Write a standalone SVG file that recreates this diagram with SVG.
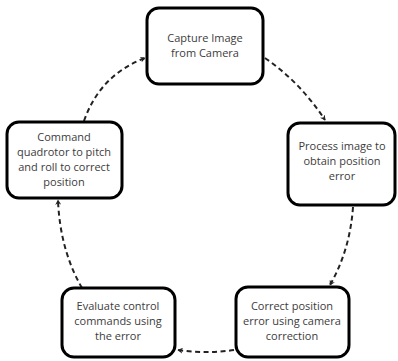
<svg xmlns="http://www.w3.org/2000/svg" width="398" height="361" viewBox="0 0 398 361">
  <style>
    .box { fill: #ffffff; stroke: #000000; stroke-width: 3; }
    .label { font-family: "Open Sans", "Liberation Sans", sans-serif; font-size: 11px; fill: #3c3c3c; text-anchor: middle; }
    .link { fill: none; stroke: #222222; stroke-width: 2; stroke-dasharray: 5 3.5; marker-end: url(#arrow); }
  </style>
  <defs>
    <marker id="arrow" viewBox="0 0 10 10" refX="8" refY="5" markerWidth="6" markerHeight="6" orient="auto" markerUnits="userSpaceOnUse">
      <path d="M0,0 L9,5 L0,10 L3,5 Z" fill="#222222"/>
    </marker>
  </defs>
  <rect width="398" height="361" fill="#ffffff"/>

  <g id="connectors">
    <path class="link" d="M265,58 Q300,82 325,120"/>
    <path class="link" d="M353,207 Q350,250 330,285"/>
    <path class="link" d="M234,350 Q206,354 178,350"/>
    <path class="link" d="M82,288 Q60,250 58,200"/>
    <path class="link" d="M84,121 Q100,75 145,58"/>
  </g>

  <g id="capture">
    <rect class="box" x="147" y="8" width="116" height="76" rx="12"/>
    <text class="label" x="205" y="42">Capture Image</text>
    <text class="label" x="205" y="57">from Camera</text>
  </g>

  <g id="process">
    <rect class="box" x="288" y="123" width="107" height="82" rx="12"/>
    <text class="label" x="342" y="150">Process image to</text>
    <text class="label" x="342" y="165">obtain position</text>
    <text class="label" x="342" y="180">error</text>
  </g>

  <g id="correct">
    <rect class="box" x="236" y="287" width="113" height="70" rx="12"/>
    <text class="label" x="292" y="310">Correct position</text>
    <text class="label" x="292" y="325">error using camera</text>
    <text class="label" x="292" y="340">correction</text>
  </g>

  <g id="evaluate">
    <rect class="box" x="62" y="288" width="113" height="69" rx="12"/>
    <text class="label" x="118" y="310">Evaluate control</text>
    <text class="label" x="118" y="325">commands using</text>
    <text class="label" x="118" y="340">the error</text>
  </g>

  <g id="command">
    <rect class="box" x="7" y="122" width="115" height="76" rx="12"/>
    <text class="label" x="64" y="141">Command</text>
    <text class="label" x="64" y="156">quadrotor to pitch</text>
    <text class="label" x="64" y="171">and roll to correct</text>
    <text class="label" x="64" y="186">position</text>
  </g>
</svg>
